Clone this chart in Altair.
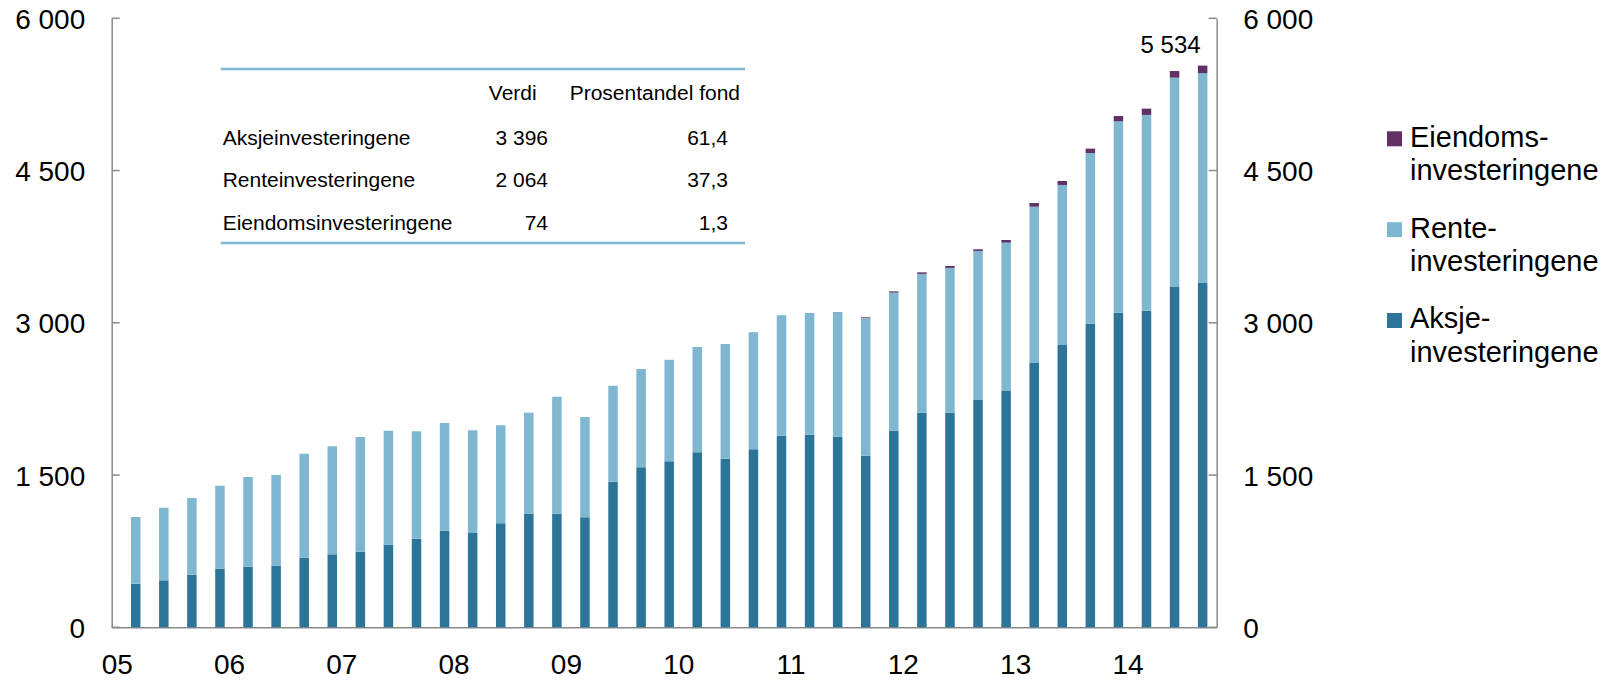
import json
import altair as alt
import pandas as pd

# ---------------- data ----------------
kvartal = [f"{y}K{q}" for y in range(2005, 2015) for q in range(1, 5)][:39]
aar = ["05", "06", "07", "08", "09", "10", "11", "12", "13", "14"]

aksje = [430, 463, 518, 577, 597, 607, 686, 719, 745, 814, 873, 952, 929,
         1024, 1119, 1119, 1084, 1435, 1576, 1635, 1724, 1661, 1754, 1888,
         1898, 1878, 1691, 1937, 2114, 2114, 2239, 2328, 2604, 2781, 2991,
         3100, 3119, 3353, 3396]
rente = [657, 715, 756, 818, 884, 893, 1024, 1064, 1130, 1123, 1058, 1061, 1012,
         966, 995, 1153, 988, 945, 969, 1002, 1038, 1130, 1152, 1186,
         1199, 1226, 1355, 1361, 1368, 1427, 1469, 1462, 1540, 1577, 1682,
         1885, 1929, 2062, 2064]
eiendom = [0, 0, 0, 0, 0, 0, 0, 0, 0, 0, 0, 0, 0,
           0, 0, 0, 0, 0, 0, 0, 0, 0, 0, 0,
           0, 2, 8, 12, 15, 19, 16, 26, 36, 39, 43,
           52, 62, 66, 74]

serier = ["Eiendomsinvesteringene", "Renteinvesteringene", "Aksjeinvesteringene"]
legend_tekst = ["Eiendoms-\ninvesteringene", "Rente-\ninvesteringene",
                "Aksje-\ninvesteringene"]
farger = ["#613064", "#7EB7CF", "#2D7499"]
y_ticks = [0, 1500, 3000, 4500, 6000]

tab_rader = ["Aksjeinvesteringene", "Renteinvesteringene", "Eiendomsinvesteringene"]
tab_verdi = [3396, 2064, 74]
tab_andel = [61.4, 37.3, 1.3]
tab_header = ["Verdi", "Prosentandel fond"]

# ---------------- tables ----------------
rows = []
for i, k in enumerate(kvartal):
    for s, vals, o in [("Aksjeinvesteringene", aksje, 0),
                       ("Renteinvesteringene", rente, 1),
                       ("Eiendomsinvesteringene", eiendom, 2)]:
        rows.append({"kvartal": k, "pos": i + 0.5, "serie": s, "verdi": vals[i], "ord": o})
df = pd.DataFrame(rows)

topp = pd.DataFrame({"pos": [len(kvartal) - 0.5],
                     "total": [aksje[-1] + rente[-1] + eiendom[-1]]})
tabell = pd.DataFrame({"rad": tab_rader, "verdi": tab_verdi, "andel": tab_andel})
ticks_df = pd.DataFrame({"v": y_ticks})
legend_df = pd.DataFrame({"serie": serier, "tekst": legend_tekst})

# ---------------- style ----------------
FONT = "Liberation Sans"
GREY = "#8a8a8a"
W, H = 1105, 609
TAB_BLUE = "#7EB7CF"

x_axis = alt.Axis(values=list(range(0, 37, 4)),
                  labelExpr=f"{json.dumps(aar)}[datum.value / 4]",
                  ticks=False, tickSize=0, grid=False, labelFontSize=28,
                  labelFont=FONT, labelColor="#000", labelPadding=24,
                  domainColor=GREY, domainWidth=1.5, title=None, labelAngle=0,
                  labelFlush=False, labelOverlap=False)
x_enc = alt.X("pos:Q", scale=alt.Scale(domain=[0, len(kvartal)], nice=False, zero=False),
              axis=x_axis)

def y_axis(orient, pad):
    return alt.Axis(orient=orient, values=y_ticks,
                    labelExpr="replace(format(datum.value, ','), ',', ' ')",
                    ticks=False, tickSize=0, grid=False, labelFontSize=28,
                    labelFont=FONT, labelColor="#000", labelPadding=pad,
                    labelBaseline="alphabetic", labelOffset=10,
                    domainColor=GREY, domainWidth=1.5, title=None,
                    labelFlush=False, labelOverlap=False)

y_scale = alt.Scale(domain=[0, 6000], nice=False)
color_enc = alt.Color("serie:N", scale=alt.Scale(domain=serier, range=farger), legend=None)

bars = alt.Chart(df).mark_bar(size=9.5, xOffset=5).encode(
    x=x_enc,
    y=alt.Y("verdi:Q", stack="zero", scale=y_scale, axis=y_axis("left", 27)),
    color=color_enc,
    order=alt.Order("ord:Q"),
)

left_ticks = alt.Chart(ticks_df).mark_rule(color=GREY, strokeWidth=1.5).encode(
    y=alt.Y("v:Q", scale=y_scale, axis=None), x=alt.value(0), x2=alt.value(8))
right_ticks = alt.Chart(ticks_df).mark_rule(color=GREY, strokeWidth=1.5).encode(
    y=alt.Y("v:Q", scale=y_scale, axis=y_axis("right", 26)),
    x=alt.value(W - 8), x2=alt.value(W))

top_label = alt.Chart(topp).transform_calculate(
    txt="replace(format(datum.total, ','), ',', ' ')"
).mark_text(align="right", baseline="alphabetic", dx=3, dy=-12.4, fontSize=24,
            font=FONT, color="#000").encode(
    x=x_enc, y=alt.Y("total:Q", scale=y_scale, axis=None), text="txt:N")

# legend (drawn from the series list)
leg_y = alt.Y("serie:N", scale=alt.Scale(domain=serier, range=[120.5, 302.2], padding=0),
              axis=None)
leg_sym = alt.Chart(legend_df).mark_square(size=225, opacity=1, strokeWidth=0).encode(
    x=alt.value(1282.8), y=leg_y, color=color_enc)
leg_txt = alt.Chart(legend_df).mark_text(
    align="left", baseline="alphabetic", dy=8, fontSize=29, font=FONT, color="#000",
    lineBreak="\n", lineHeight=33.3
).encode(x=alt.value(1298.3), y=leg_y, text="tekst:N")

# inset table
line_top = alt.Chart(ticks_df.head(1)).mark_rule(color=TAB_BLUE, strokeWidth=2.5).encode(
    x=alt.value(109), x2=alt.value(633.3), y=alt.value(50.7))
line_bot = alt.Chart(ticks_df.head(1)).mark_rule(color=TAB_BLUE, strokeWidth=2.5).encode(
    x=alt.value(109), x2=alt.value(633.3), y=alt.value(224.7))

row_y = alt.Y("rad:N", scale=alt.Scale(domain=tab_rader, range=[126.7, 211.7], padding=0),
              axis=None)
txt_kw = dict(baseline="alphabetic", fontSize=21, font=FONT, color="#000")
t_lab = alt.Chart(tabell).mark_text(align="left", **txt_kw).encode(
    x=alt.value(111), y=row_y, text="rad:N")
t_val = alt.Chart(tabell).transform_calculate(
    txt="replace(format(datum.verdi, ','), ',', ' ')"
).mark_text(align="right", **txt_kw).encode(x=alt.value(436.3), y=row_y, text="txt:N")
t_pct = alt.Chart(tabell).transform_calculate(
    txt="replace(format(datum.andel, '.1f'), '.', ',')"
).mark_text(align="right", **txt_kw).encode(x=alt.value(616.3), y=row_y, text="txt:N")

h_val = alt.Chart(ticks_df.head(1)).mark_text(align="right", text=tab_header[0], **txt_kw).encode(
    x=alt.value(425), y=alt.value(81.7))
h_pct = alt.Chart(ticks_df.head(1)).mark_text(align="right", text=tab_header[1], **txt_kw).encode(
    x=alt.value(628.3), y=alt.value(81.7))

chart = alt.layer(
    bars, left_ticks, right_ticks, top_label, leg_sym, leg_txt, line_top, line_bot,
    t_lab, t_val, t_pct, h_val, h_pct
).resolve_scale(y="independent").properties(
    width=W, height=H,
    autosize=alt.AutoSizeParams(type="none"),
    padding={"left": 103.7, "top": 10.3, "right": 390, "bottom": 54},
).configure_view(stroke=None)

chart.save("out.html", embed_options={"renderer": "svg", "actions": False})
